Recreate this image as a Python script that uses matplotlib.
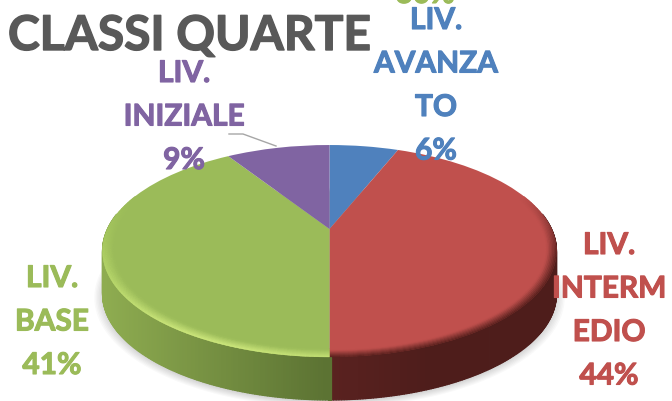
import numpy as np
import matplotlib
matplotlib.use('Agg')
import matplotlib.pyplot as plt
import matplotlib.patheffects as pe
from matplotlib.collections import PolyCollection
from matplotlib.transforms import Transform
from matplotlib.path import Path
from matplotlib.colors import to_rgb

title = 'CLASSI QUARTE'
# order as drawn, clockwise from 12 o'clock
categories = ['LIV.\nAVANZA\nTO', 'LIV.\nINTERM\nEDIO', 'LIV.\nBASE', 'LIV.\nINIZIALE']
values = [6, 44, 41, 9]
colors = ['#4f81bd', '#c0504d', '#9bbb59', '#8064a2']
label_x = [436, 609, 52, 184]
label_y = [20, 245, 278, 73]
line_gap = 43.5

cx, cy = 329.5, 229.0   # apex of the pie, in pixels
a, b, k = 222.0, 101.4, 0.2075   # perspective of the disc
depth = 43.0


def project(u, v):
    w = 1 + k * v
    return cx + a * u / w, cy - b * v / w


class Persp(Transform):
    input_dims = output_dims = 2

    def transform_non_affine(self, xy):
        xy = np.asarray(xy)
        x, y = project(xy[:, 0], xy[:, 1])
        return np.column_stack([x, y])

    def transform_path_non_affine(self, path):
        return Path(self.transform_non_affine(path.vertices), path.codes)


def mix(c1, c2, t):
    c1, c2 = np.array(to_rgb(c1)), np.array(to_rgb(c2))
    return tuple(c1 + (c2 - c1) * np.clip(t, 0, 1))


fig = plt.figure(figsize=(6.72, 4.01), dpi=100)
plt.rcParams['font.family'] = ['Lato', 'DejaVu Sans']
ax = fig.add_axes([0, 0, 1, 1])

wedges, _ = ax.pie(values, colors=colors, startangle=90, counterclock=False, radius=1)
for w in wedges:
    w.set_transform(Persp() + ax.transData)
    w.set_zorder(5)
    w.set_edgecolor('none')
ax.set_xlim(0, 672)
ax.set_ylim(401, 0)
ax.set_aspect('auto')
ax.axis('off')

# soft shadow under the pie
th = np.linspace(0, 2 * np.pi, 200)
for i in range(12):
    grow = 1.035 - 0.006 * i
    x, y = project(np.sin(th) * grow, np.cos(th) * grow)
    ax.fill(x, y + depth + 2, color='#000000', alpha=0.022, lw=0, zorder=1)

# boundaries between slices, clockwise angle from the top
bounds = np.cumsum([0] + values) / sum(values) * 2 * np.pi


def slice_of(t):
    t = t % (2 * np.pi)
    return np.searchsorted(bounds, t, side='right') - 1


# side wall, one colour per column
n = 360
angles = np.linspace(np.pi / 2 - 0.15, 3 * np.pi / 2 + 0.15, n)
polys, cols = [], []
for t0, t1 in zip(angles[:-1], angles[1:]):
    tm = (t0 + t1) / 2
    s = slice_of(tm)
    x0, y0 = project(np.sin(t0), np.cos(t0))
    x1, y1 = project(np.sin(t1), np.cos(t1))
    polys.append([(x0, y0), (x1, y1), (x1, y1 + depth), (x0, y0 + depth)])
    if s == 2:
        # green gets darker towards the middle
        cols.append(mix('#8eac50', '#5c7333', (x0 - 105) / 220))
    else:
        cols.append(mix('#5a2220', '#4e1d1b', (x0 - 330) / 100))
ax.add_collection(PolyCollection(polys, facecolors=cols, edgecolors=cols, linewidths=0.9, zorder=3))

# bevel on the rim of the face, over the wedges
radii = np.linspace(1.0, 0.95, 9)
angles = np.linspace(0, 2 * np.pi, 361)
polys, cols = [], []
for j in range(len(radii) - 1):
    r0, r1 = radii[j], radii[j + 1]
    f = (j + 0.5) / (len(radii) - 1)
    for t0, t1 in zip(angles[:-1], angles[1:]):
        tm = (t0 + t1) / 2
        s = slice_of(tm)
        front = np.clip(-np.cos(tm) * 1.6 + 0.55, 0, 1)   # 0 at the back, 1 at the front
        if front <= 0:
            continue
        base = colors[s]
        if s == 2:
            # light rim, brightest front-left
            glow = np.exp(-((tm - np.radians(205)) / 0.7) ** 2)
            edge = mix('#a9cc5f', '#d2ec80', glow)
            c = mix(edge, base, f)
            c = mix(base, c, front)
        elif s == 1:
            c = mix('#561f1d', base, f * 1.15)
            c = mix(base, c, front)
        else:
            c = to_rgb(base)
        x0, y0 = project(r0 * np.sin(t0), r0 * np.cos(t0))
        x1, y1 = project(r0 * np.sin(t1), r0 * np.cos(t1))
        x2, y2 = project(r1 * np.sin(t1), r1 * np.cos(t1))
        x3, y3 = project(r1 * np.sin(t0), r1 * np.cos(t0))
        polys.append([(x0, y0), (x1, y1), (x2, y2), (x3, y3)])
        cols.append(c)
ax.add_collection(PolyCollection(polys, facecolors=cols, edgecolors=cols, linewidths=0.3, zorder=6))

# leader line for the small purple slice
ax.plot([229, 243, 276], [134, 134, 146], color='#a6a6a6', lw=1, zorder=7)

t = ax.text(8, 36, title, fontsize=34.5, fontweight='bold', color='#595959', va='center', ha='left', zorder=8)
t.set_path_effects([pe.withStroke(linewidth=1.0, foreground='#595959')])

for name, val, col, lx, ly in zip(categories, values, colors, label_x, label_y):
    lines = name.split('\n') + ['%d%%' % val]
    for i, line in enumerate(lines):
        t = ax.text(lx, ly + i * line_gap, line, fontsize=21.5, fontweight='bold', color=col,
                    ha='center', va='center', zorder=8)
        t.set_path_effects([pe.withStroke(linewidth=0.8, foreground=col)])

# green label left over from another chart, cut by the top edge
t = ax.text(425, -6, '30%', fontsize=21.5, fontweight='bold', color=colors[2], ha='center', va='center',
            zorder=8, clip_on=True)
t.set_path_effects([pe.withStroke(linewidth=0.8, foreground=colors[2])])

fig.savefig('out.png', dpi=100)
